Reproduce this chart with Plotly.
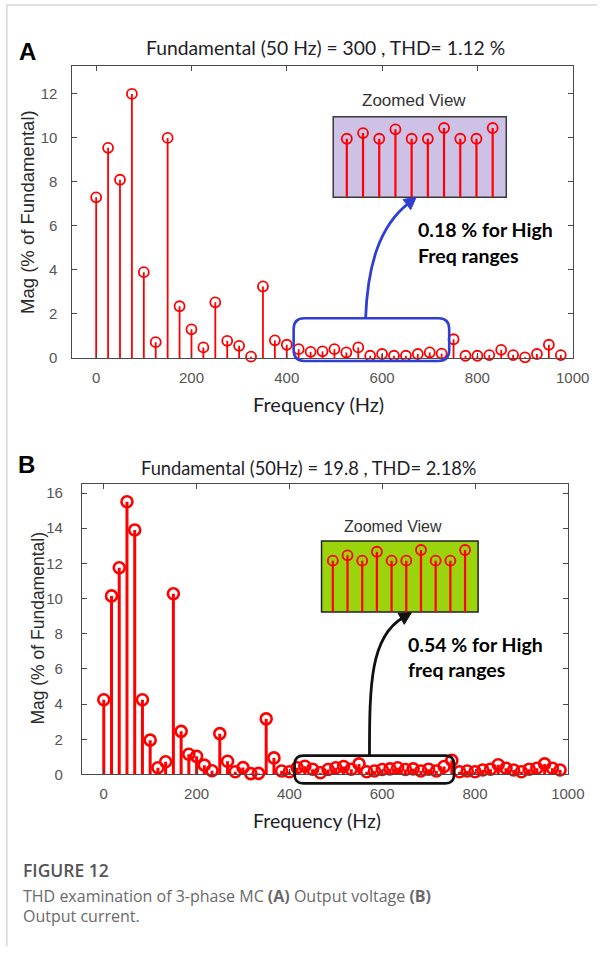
import math
import plotly.graph_objects as go

W, H = 614, 954
def X(p): return p / W
def Y(p): return 1 - p / H

# ---------------- data ----------------
freq_a = [0, 25, 50, 75, 100, 125, 150, 175, 200, 225, 250, 275, 300, 325, 350, 375, 400,
          425, 450, 475, 500, 525, 550, 575, 600, 625, 650, 675, 700, 725, 750, 775, 800,
          825, 850, 875, 900, 925, 950, 975]
mag_a = [7.3, 9.55, 8.1, 12.0, 3.9, 0.72, 10.0, 2.35, 1.3, 0.48, 2.53, 0.78, 0.55, 0.06, 3.25,
         0.8, 0.6, 0.4, 0.28, 0.3, 0.4, 0.25, 0.48, 0.1, 0.18, 0.1, 0.1, 0.18, 0.25, 0.2, 0.85,
         0.1, 0.1, 0.13, 0.37, 0.13, 0.03, 0.18, 0.6, 0.13]

freq_b = [0, 16.7, 33.3, 50, 66.7, 83.3, 100, 116.7, 133.3, 150, 166.7, 183.3, 200, 216.7,
          233.3, 250, 266.7, 283.3, 300, 316.7, 333.3, 350, 366.7, 383.3, 400, 416.7, 433.3,
          450, 466.7, 483.3, 500, 516.7, 533.3, 550, 566.7, 583.3, 600, 616.7, 633.3, 650,
          666.7, 683.3, 700, 716.7, 733.3, 750, 766.7, 783.3, 800, 816.7, 833.3, 850, 866.7,
          883.3, 900, 916.7, 933.3, 950, 966.7, 983.3]
mag_b = [4.25, 10.15, 11.75, 15.5, 13.9, 4.25, 1.95, 0.38, 0.72, 10.27, 2.45, 1.15, 1.03, 0.53,
         0.21, 2.32, 0.75, 0.15, 0.39, 0.05, 0.06, 3.16, 0.94, 0.2, 0.15, 0.38, 0.47, 0.3, 0.1,
         0.28, 0.38, 0.45, 0.3, 0.6, 0.15, 0.2, 0.28, 0.32, 0.38, 0.28, 0.32, 0.2, 0.3, 0.2,
         0.45, 0.8, 0.15, 0.2, 0.15, 0.25, 0.3, 0.55, 0.35, 0.25, 0.15, 0.3, 0.35, 0.6, 0.35, 0.25]

zoom_idx = [1, 2, 3, 4, 5, 6, 7, 8, 9, 10]
zoom_a = [0.218, 0.239, 0.218, 0.253, 0.218, 0.218, 0.258, 0.218, 0.218, 0.258]
zoom_b = [0.58, 0.64, 0.58, 0.68, 0.58, 0.58, 0.70, 0.58, 0.58, 0.70]

xticks = [0, 200, 400, 600, 800, 1000]
title_a = "Fundamental (50 Hz) = 300 , THD= 1.12 %"
title_b = "Fundamental (50Hz) = 19.8 , THD= 2.18%"

RED = "#ff0000"

def stems(xs, ys):
    sx, sy = [], []
    for x, y in zip(xs, ys):
        sx += [x, x, None]
        sy += [0, y, None]
    return sx, sy

fig = go.Figure()

def add_stem(xs, ys, xa, ya, lw, msize, mlw):
    sx, sy = stems(xs, ys)
    fig.add_trace(go.Scatter(x=sx, y=sy, mode="lines", line=dict(color=RED, width=lw),
                             xaxis=xa, yaxis=ya, hoverinfo="skip", showlegend=False,
                             cliponaxis=False))
    fig.add_trace(go.Scatter(x=xs, y=ys, mode="markers",
                             marker=dict(symbol="circle-open", size=msize, color=RED,
                                         line=dict(color=RED, width=mlw)),
                             xaxis=xa, yaxis=ya, showlegend=False, cliponaxis=False))

add_stem(freq_a, mag_a, "x", "y", 1.8, 10, 1.8)
add_stem(freq_b, mag_b, "x2", "y2", 3.0, 11, 2.6)
add_stem(zoom_idx, zoom_a, "x3", "y3", 2.2, 10, 1.8)
add_stem(zoom_idx, zoom_b, "x4", "y4", 2.2, 10, 1.8)

AX = "#4a4a4a"
tickfont = dict(family="Liberation Sans", size=15, color="#555555")

def main_axes(xdom, ydom, yr, ydt, xr):
    xa = dict(domain=xdom, range=xr, tickvals=xticks, ticks="inside", ticklen=5,
              tickcolor=AX, showline=True, linecolor=AX, linewidth=1, mirror="ticks",
              showgrid=False, zeroline=False, tickfont=tickfont, ticklabelstandoff=6)
    ya = dict(domain=ydom, range=yr, dtick=ydt, tick0=0, ticks="inside", ticklen=5,
              tickcolor=AX, showline=True, linecolor=AX, linewidth=1, mirror="ticks",
              showgrid=False, zeroline=False, tickfont=tickfont, ticklabelstandoff=11)
    return xa, ya

xa1, ya1 = main_axes([X(74.4), X(589)], [Y(361), Y(67)], [0, 13.25], 2, [-50, 1000])
xa2, ya2 = main_axes([X(84.3), X(584)], [Y(781), Y(488.3)], [0, 16.5], 2, [-47, 1000])
ya1["anchor"] = "x"; xa1["anchor"] = "y"
xa2["anchor"] = "y2"; ya2["anchor"] = "x2"
ya2["ticklabelstandoff"] = 15

def inset_axes(xdom, ydom, xr, yr, xa_anchor, ya_anchor):
    xa = dict(domain=xdom, range=xr, visible=False, anchor=ya_anchor)
    ya = dict(domain=ydom, range=yr, visible=False, anchor=xa_anchor)
    return xa, ya

xa3, ya3 = inset_axes([X(342.7), X(520.7)], [Y(199), Y(117.7)], [0.16, 10.84], [0, 0.3], "x3", "y3")
xa4, ya4 = inset_axes([X(330.7), X(491.7)], [Y(617.3), Y(545.7)], [0.232, 10.887], [0, 0.8], "x4", "y4")

fig.update_layout(
    width=W, height=H, margin=dict(l=0, r=0, t=0, b=0),
    paper_bgcolor="white", plot_bgcolor="rgba(0,0,0,0)",
    xaxis=xa1, yaxis=ya1, xaxis2=xa2, yaxis2=ya2,
    xaxis3=xa3, yaxis3=ya3, xaxis4=xa4, yaxis4=ya4,
    showlegend=False,
)

shapes = []
# outer frame lines
shapes.append(dict(type="line", xref="paper", yref="paper", x0=X(7), x1=X(614), y0=Y(5), y1=Y(5),
                   line=dict(color="#d6d6d6", width=1.5)))
shapes.append(dict(type="line", xref="paper", yref="paper", x0=X(7), x1=X(7), y0=Y(5), y1=Y(954),
                   line=dict(color="#d6d6d6", width=1.5)))
# inset boxes
shapes.append(dict(type="rect", xref="paper", yref="paper", x0=X(342.7), x1=X(520.7),
                   y0=Y(199), y1=Y(117.7), fillcolor="#cdc1e6", line=dict(color="#3a3a3a", width=1.5),
                   layer="below"))
shapes.append(dict(type="rect", xref="paper", yref="paper", x0=X(330.7), x1=X(491.7),
                   y0=Y(617.3), y1=Y(545.7), fillcolor="#9bd30c", line=dict(color="#222222", width=1.5),
                   layer="below"))

def rrect(x0, y0, x1, y1, r):
    p = (f"M {X(x0+r)},{Y(y0)} L {X(x1-r)},{Y(y0)} Q {X(x1)},{Y(y0)} {X(x1)},{Y(y0+r)} "
         f"L {X(x1)},{Y(y1-r)} Q {X(x1)},{Y(y1)} {X(x1-r)},{Y(y1)} "
         f"L {X(x0+r)},{Y(y1)} Q {X(x0)},{Y(y1)} {X(x0)},{Y(y1-r)} "
         f"L {X(x0)},{Y(y0+r)} Q {X(x0)},{Y(y0)} {X(x0+r)},{Y(y0)} Z")
    return p

shapes.append(dict(type="path", xref="paper", yref="paper", path=rrect(302, 321, 462, 364, 11),
                   line=dict(color="#2f3fd3", width=2.6)))
shapes.append(dict(type="path", xref="paper", yref="paper", path=rrect(303, 762, 467, 790, 9),
                   line=dict(color="#111111", width=2.6)))

def curved_arrow(p0, p1, p2, tip, color, hl=12, hw=6.5):
    dx, dy = tip[0] - p2[0], tip[1] - p2[1]
    n = math.hypot(dx, dy)
    dx, dy = dx / n, dy / n
    bx, by = tip[0] - hl * dx * 0.8, tip[1] - hl * dy * 0.8
    curve = (f"M {X(p0[0])},{Y(p0[1])} C {X(p1[0])},{Y(p1[1])} {X(p2[0])},{Y(p2[1])} "
             f"{X(bx)},{Y(by)}")
    hb = (tip[0] - hl * dx, tip[1] - hl * dy)
    px, py = -dy, dx
    head = (f"M {X(tip[0])},{Y(tip[1])} L {X(hb[0] + hw*px)},{Y(hb[1] + hw*py)} "
            f"L {X(hb[0] - hw*px)},{Y(hb[1] - hw*py)} Z")
    return [dict(type="path", xref="paper", yref="paper", path=curve,
                 line=dict(color=color, width=2.8)),
            dict(type="path", xref="paper", yref="paper", path=head,
                 fillcolor=color, line=dict(color=color, width=1))]

shapes += curved_arrow((376, 321), (378, 268), (390, 228), (428, 199), "#2f3fd3")
shapes += curved_arrow((380, 762), (380, 690), (381, 642), (423, 618), "#111111")

fig.update_layout(shapes=shapes)

ann = []
def txt(x, y, s, size, color="#222222", family="Lato", xanchor="center", bold=False, angle=0,
        weight=None):
    f = dict(family=family, size=size, color=color)
    if weight:
        f["weight"] = weight
    ann.append(dict(x=X(x), y=Y(y), xref="paper", yref="paper", text=(f"<b>{s}</b>" if bold else s),
                    showarrow=False, xanchor=xanchor, yanchor="middle", textangle=angle,
                    font=f))

# panel letters
txt(28, 52, "A", 24, "#000000", "Liberation Sans", bold=True)
txt(27, 468, "B", 24, "#000000", "Liberation Sans", bold=True)
# titles
txt(335, 48, title_a, 19.3, "#1e1e28")
txt(318, 472, title_b, 18.3, "#1e1e28")
# y titles
txt(27.5, 214, "Mag (% of Fundamental)", 18.5, "#2a2a2a", "Liberation Sans", angle=-90)
txt(39, 633, "Mag (% of Fundamental)", 17.5, "#2a2a2a", "Liberation Sans", angle=-90)
# x titles
txt(328, 407, "Frequency (Hz)", 20, "#1e1e28")
txt(326, 827, "Frequency (Hz)", 19.5, "#1e1e28")
# zoomed view labels
txt(425.5, 101, "Zoomed View", 17, "#333333", "Liberation Sans")
txt(404, 531, "Zoomed View", 16, "#333333", "Liberation Sans")
# annotations
txt(428, 231, "0.18 % for High", 19.5, "#000000", xanchor="left", bold=True)
txt(428, 258, "Freq ranges", 19.5, "#000000", xanchor="left", bold=True)
txt(418, 650, "0.54 % for High", 19.5, "#000000", xanchor="left", bold=True)
txt(418, 675, "freq ranges", 19.5, "#000000", xanchor="left", bold=True)
# caption
txt(22, 877, "FIGURE 12", 17.5, "#555555", "Open Sans", xanchor="left", weight=600)
txt(22, 904, "THD examination of 3-phase MC <b>(A)</b> Output voltage <b>(B)</b>", 16, "#6a6a6a",
    "Open Sans", xanchor="left")
txt(22, 924, "Output current.", 16, "#6a6a6a", "Open Sans", xanchor="left")

fig.update_layout(annotations=ann)

fig.write_html("out.html", config={"displayModeBar": False},
               post_script="document.body.style.margin='0';")
